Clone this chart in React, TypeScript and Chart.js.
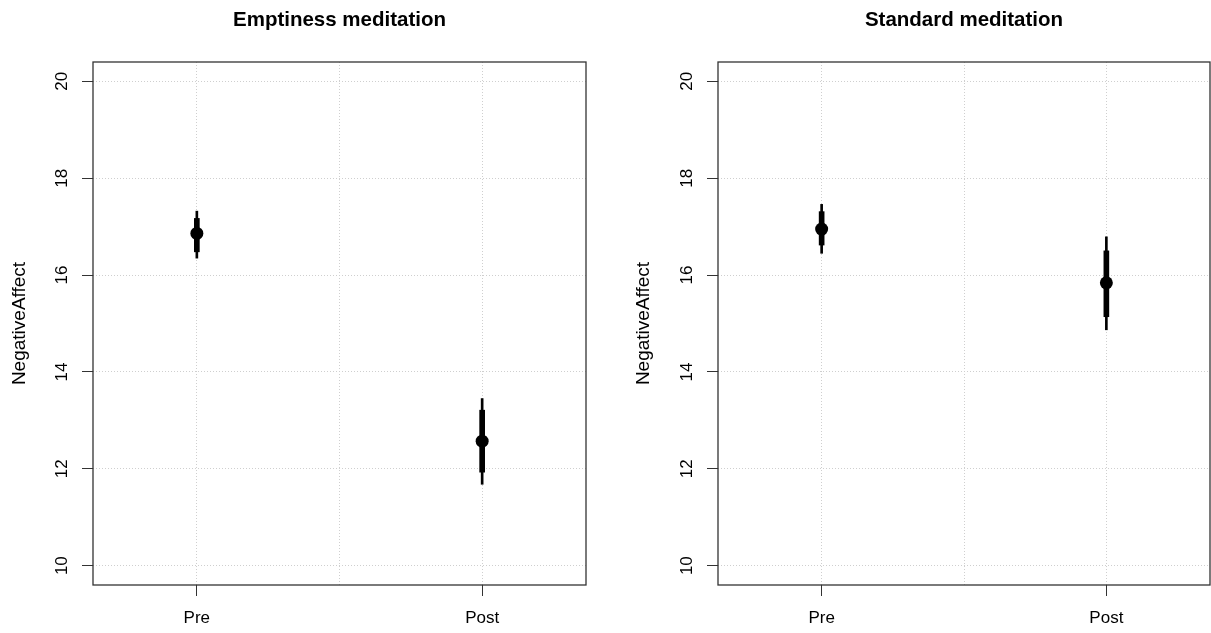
import React, { useEffect, useRef } from 'react';
import { Chart, registerables } from 'chart.js';

Chart.register(...registerables);

// ---- data ----
const categories = ['Pre', 'Post'];
const yTicks = [10, 12, 14, 16, 18, 20];
const yAxisLabel = 'NegativeAffect';

const emptinessTitle = 'Emptiness meditation';
const emptinessMean = [16.86, 12.57];
const emptinessInnerLow = [16.48, 11.93];
const emptinessInnerHigh = [17.17, 13.21];
const emptinessOuterLow = [16.35, 11.68];
const emptinessOuterHigh = [17.32, 13.45];

const standardTitle = 'Standard meditation';
const standardMean = [16.95, 15.84];
const standardInnerLow = [16.62, 15.14];
const standardInnerHigh = [17.31, 16.5];
const standardOuterLow = [16.45, 14.87];
const standardOuterHigh = [17.46, 16.79];

const FONT = '"Liberation Sans", Arial, Helvetica, sans-serif';
const H = 633;

const boxPlugin = {
  id: 'rbox',
  afterDatasetsDraw(chart: any) {
    const { ctx, chartArea } = chart;
    ctx.save();
    ctx.strokeStyle = '#333';
    ctx.lineWidth = 1.3;
    ctx.setLineDash([]);
    ctx.strokeRect(chartArea.left, chartArea.top, chartArea.right - chartArea.left, chartArea.bottom - chartArea.top);
    ctx.restore();
  },
};

type PanelProps = {
  left: number;
  width: number;
  axisWidth: number;
  padRight: number;
  title: string;
  mean: number[];
  innerLow: number[];
  innerHigh: number[];
  outerLow: number[];
  outerHigh: number[];
};

function Panel(p: PanelProps) {
  const ref = useRef<HTMLCanvasElement>(null);
  useEffect(() => {
    const xs = categories.map((_, i) => i + 1);
    const chart = new Chart(ref.current as HTMLCanvasElement, {
      type: 'bar',
      data: {
        datasets: [
          {
            type: 'bar',
            data: xs.map((x, i) => ({ x, y: [p.outerLow[i], p.outerHigh[i]] })) as any,
            backgroundColor: '#000',
            borderWidth: 0,
            barThickness: 2,
            grouped: false,
            order: 3,
          } as any,
          {
            type: 'bar',
            data: xs.map((x, i) => ({ x, y: [p.innerLow[i], p.innerHigh[i]] })) as any,
            backgroundColor: '#000',
            borderWidth: 0,
            barThickness: 5,
            grouped: false,
            order: 2,
          } as any,
          {
            type: 'scatter',
            data: xs.map((x, i) => ({ x, y: p.mean[i] })),
            backgroundColor: '#000',
            borderWidth: 0,
            pointRadius: 6.5,
            order: 1,
          } as any,
        ],
      },
      options: {
        responsive: false,
        animation: false,
        layout: { padding: { left: 0, right: p.padRight, top: 0, bottom: 0 } },
        plugins: {
          legend: { display: false },
          tooltip: { enabled: false },
          title: {
            display: true,
            text: p.title,
            fullSize: false,
            color: '#000',
            font: { family: FONT, size: 20.5, weight: 'bold' },
            padding: { top: 8, bottom: 29.4 },
          },
        },
        scales: {
          x: {
            type: 'linear',
            offset: false,
            min: 0.636,
            max: 2.364,
            afterBuildTicks: (s: any) => {
              s.ticks = [1, 1.5, 2].map((v) => ({ value: v }));
            },
            afterFit: (s: any) => {
              s.height = 48;
            },
            ticks: {
              autoSkip: false,
              maxRotation: 0,
              color: '#000',
              padding: 12,
              font: { family: FONT, size: 17 },
              callback: (v: any) => (Number.isInteger(v) ? categories[v - 1] : ''),
            },
            grid: {
              offset: false,
              color: '#cfcfcf',
              lineWidth: 1,
              tickLength: 11,
              tickWidth: 1,
              tickBorderDash: [],
              tickColor: (c: any) => (c.tick && c.tick.value === 1.5 ? 'rgba(0,0,0,0)' : '#333'),
            },
            border: { display: false, dash: [1, 2] },
          },
          y: {
            type: 'linear',
            min: 9.6,
            max: 20.4,
            afterBuildTicks: (s: any) => {
              s.ticks = yTicks.map((v) => ({ value: v }));
            },
            afterFit: (s: any) => {
              s.width = p.axisWidth;
            },
            ticks: {
              minRotation: 90,
              maxRotation: 90,
              crossAlign: 'center',
              padding: 10.5,
              color: '#000',
              font: { family: FONT, size: 17 },
            },
            grid: {
              color: '#cfcfcf',
              lineWidth: 1,
              tickLength: 11,
              tickWidth: 1,
              tickBorderDash: [],
              tickColor: '#333',
            },
            border: { display: false, dash: [1, 2] },
            title: {
              display: true,
              text: yAxisLabel,
              color: '#000',
              font: { family: FONT, size: 19 },
              padding: { top: 8.2, bottom: 0 },
            },
          },
        },
      } as any,
      plugins: [boxPlugin],
    });
    return () => chart.destroy();
  }, []);
  return (
    <div style={{ position: 'absolute', left: p.left, top: 0, width: p.width, height: H }}>
      <canvas ref={ref} width={p.width} height={H} style={{ display: 'block' }} />
    </div>
  );
}

export default function App() {
  return (
    <div style={{ position: 'fixed', left: 0, top: 0, width: 1211, height: H, background: '#fff', overflow: 'hidden' }}>
      <Panel
        left={0}
        width={605}
        axisWidth={93}
        padRight={19}
        title={emptinessTitle}
        mean={emptinessMean}
        innerLow={emptinessInnerLow}
        innerHigh={emptinessInnerHigh}
        outerLow={emptinessOuterLow}
        outerHigh={emptinessOuterHigh}
      />
      <Panel
        left={624}
        width={605}
        axisWidth={94}
        padRight={19}
        title={standardTitle}
        mean={standardMean}
        innerLow={standardInnerLow}
        innerHigh={standardInnerHigh}
        outerLow={standardOuterLow}
        outerHigh={standardOuterHigh}
      />
    </div>
  );
}
